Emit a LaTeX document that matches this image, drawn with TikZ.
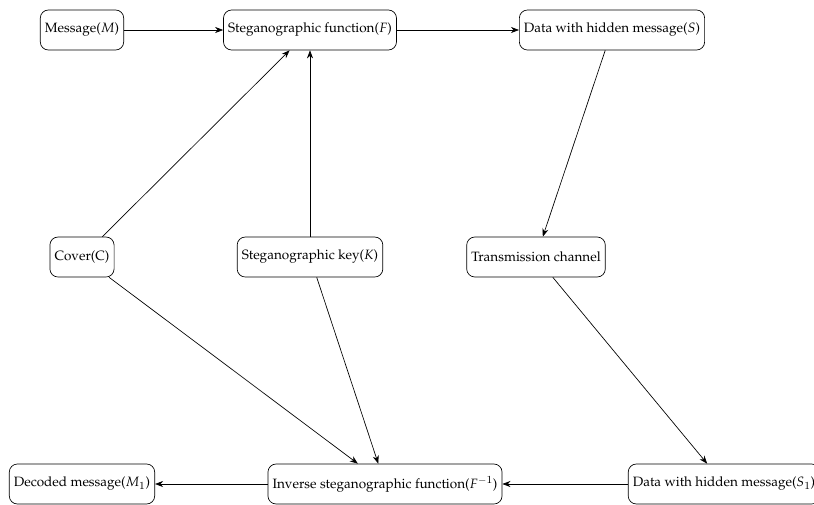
\documentclass[tikz,border=0pt]{standalone}
\usepackage[T1]{fontenc}
\usepackage{mathpazo}
\usetikzlibrary{arrows.meta}
\newcommand{\cmdigit}{\hbox{\fontsize{8.5}{9}\usefont{OT1}{cmr}{m}{n}1}}
\begin{document}
\begin{tikzpicture}[x=0.74pt,y=-0.74pt,
  box/.style={draw,rounded corners=6pt,minimum height=29.6pt,inner xsep=3.4pt,font=\fontsize{10}{12}\selectfont,line width=0.5pt},
  arr/.style={-{Stealth[length=6pt,width=4.5pt]},line width=0.5pt}]
\useasboundingbox (0,0) rectangle (814,504);
\node[box] (M) at (82,30) {Message($M$)};
\node[box] (F) at (310,30) {Steganographic function($F$)};
\node[box] (S) at (612,30) {Data with hidden message($S$)};
\node[box] (C) at (82,257) {Cover(C)};
\node[box] (K) at (310,257) {Steganographic key($K$)};
\node[box] (T) at (536,257) {Transmission channel};
\node[box] (D) at (82,484) {Decoded message($M_{\cmdigit}$)};
\node[box] (I) at (385,484) {Inverse steganographic function($F^{-\cmdigit}$)};
\node[box] (S1) at (724,484) {Data with hidden message($S_{\cmdigit}$)};
\draw[arr] (M) -- (F);
\draw[arr] (F) -- (S);
\draw[arr] (S) -- (T);
\draw[arr] (C) -- (F);
\draw[arr] (K) -- (F);
\draw[arr] (C) -- (I);
\draw[arr] (K) -- (I);
\draw[arr] (T) -- (S1);
\draw[arr] (S1) -- (I);
\draw[arr] (I) -- (D);
\end{tikzpicture}
\end{document}
